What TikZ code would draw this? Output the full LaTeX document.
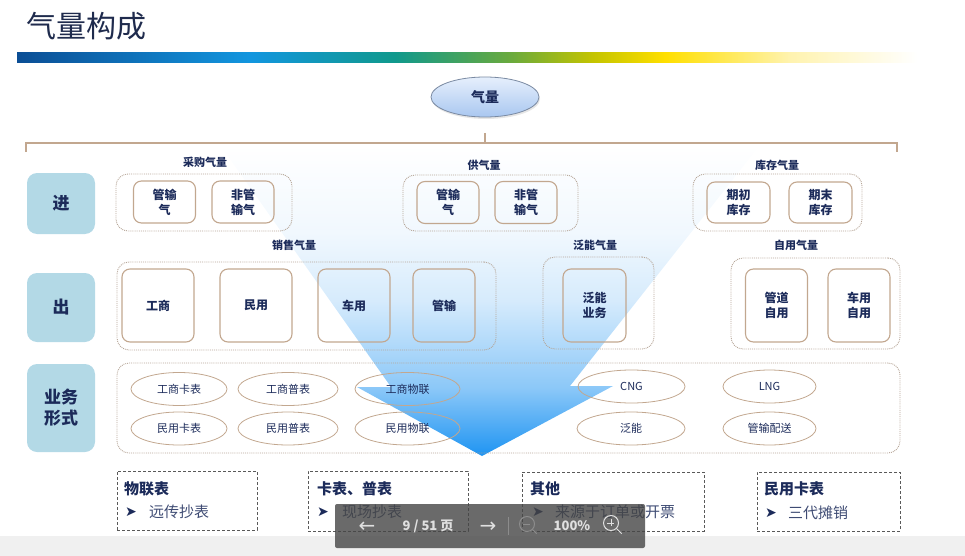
\documentclass[tikz,border=0pt]{standalone}
\usepackage{fontspec}
\setmainfont{Noto Sans CJK SC}
\newfontfamily\symfont{DejaVu Sans}
\usetikzlibrary{shapes.geometric,shadows}

\definecolor{navy}{HTML}{1C2B5A}
\definecolor{titlenavy}{HTML}{1F2B4D}
\definecolor{tan}{HTML}{C2A78F}
\definecolor{dotgray}{HTML}{B5A597}
\definecolor{rowblue}{HTML}{B3D9E6}
\definecolor{arrowblue}{HTML}{1E94F2}
\definecolor{arrow1}{HTML}{8CC8F8}
\definecolor{arrow2}{HTML}{D6EBFC}
\definecolor{arrow3}{HTML}{F1F8FE}
\definecolor{qtop}{HTML}{E6EFFC}
\definecolor{qbot}{HTML}{A9C7F0}
\definecolor{qline}{HTML}{7A8AA2}
\definecolor{stripgray}{HTML}{F0F0F0}
\definecolor{bargray}{HTML}{454545}
\definecolor{bar1}{HTML}{0B4E95}
\definecolor{bar2}{HTML}{1296DF}
\definecolor{bar3}{HTML}{10998C}
\definecolor{bar4}{HTML}{6BAA3C}
\definecolor{bar5}{HTML}{C4C400}
\definecolor{bar6}{HTML}{FFDF00}
\definecolor{bar7}{HTML}{FFF3B0}
\pgfdeclarehorizontalshading{titlebar}{100bp}{color(0bp)=(bar1); color(25bp)=(bar1);
  color(38bp)=(bar2); color(46bp)=(bar3); color(52.5bp)=(bar4); color(57bp)=(bar5);
  color(61bp)=(bar6); color(68bp)=(bar7); color(75bp)=(white); color(100bp)=(white)}
\pgfdeclareverticalshading{arrowfade}{100bp}{color(0bp)=(arrowblue); color(25bp)=(arrowblue);
  color(36bp)=(arrow1); color(50bp)=(arrow2); color(61bp)=(arrow3); color(75bp)=(white);
  color(100bp)=(white)}

\begin{document}
\begin{tikzpicture}[x=1pt, y=-1pt,
  every node/.append style={text=navy},
  rowlabel/.style={rectangle, rounded corners=10pt, fill=rowblue, minimum width=68pt,
    align=center, font=\fontsize{17}{21}\selectfont\bfseries},
  group/.style={rectangle, draw=dotgray, densely dotted, line width=0.9pt, rounded corners=12pt},
  grouplabel/.style={font=\fontsize{11}{13}\selectfont\bfseries},
  tanbox/.style={rectangle, draw=tan, line width=1.1pt, rounded corners=8pt, align=center,
    font=\fontsize{12}{15}\selectfont\bfseries},
  oval/.style={ellipse, draw=tan, line width=0.8pt, inner sep=0pt, minimum height=33pt,
    font=\fontsize{11}{13}\selectfont},
  notebox/.style={rectangle, draw=black!65, densely dashed, line width=0.9pt},
  notetitle/.style={anchor=west, inner sep=0pt, font=\fontsize{15}{17}\selectfont\bfseries},
  notetext/.style={anchor=west, inner sep=0pt, text=navy!85, font=\fontsize{15}{17}\selectfont},
  bullet/.style={inner sep=0pt, font=\symfont\fontsize{14}{16}\selectfont},
  bartext/.style={inner sep=0pt, text=white!88!black, font=\fontsize{13}{15}\selectfont\bfseries}
]
\useasboundingbox (0,0) rectangle (965,556);
\fill[stripgray] (0,536) rectangle (965,556);

% title and colour bar
\node[anchor=west, inner sep=0pt, text=titlenavy, font=\fontsize{30}{34}\selectfont] (title) at (26,26) {气量构成};
\shade[shading=titlebar] (17,53) rectangle (917,63);

% big arrow behind the boxes
\shade[shading=arrowfade]
  (220,145) -- (391,387) -- (357,387) -- (482,456) -- (613,386) -- (570,386) -- (760,145) -- cycle;

% top node and bracket
\node[ellipse, draw=qline, line width=0.8pt, top color=qtop, bottom color=qbot,
  minimum width=108pt, minimum height=40pt, font=\fontsize{14}{16}\selectfont\bfseries,
  drop shadow={opacity=0.2, shadow xshift=1pt, shadow yshift=-2pt}] (qiliang) at (485,97) {气量};
\coordinate (brk) at (485,133);
\coordinate (bl) at (26,152);
\coordinate (br) at (897,152);
\draw[tan, line width=1.2pt] (brk) -- (485,143);
\draw[tan, line width=1.2pt] (bl) -- (26,143) -- (897,143) -- (br);

% row labels
\node[rowlabel, minimum height=61pt] (jin) at (61,203.5) {进};
\node[rowlabel, minimum height=69pt] (chu) at (61,307.5) {出};
\node[rowlabel, minimum height=88pt] (yewu) at (61,408) {业务\\形式};

% row 1
\node[group, minimum width=176pt, minimum height=57pt] (caigou) at (204,202.5) {};
\node[grouplabel] (caigouL) at (205,162) {采购气量};
\node[tanbox, minimum width=62pt, minimum height=42pt] (cg1) at (164.5,202) {管输\\气};
\node[tanbox, minimum width=62pt, minimum height=42pt] (cg2) at (243,202) {非管\\输气};

\node[group, minimum width=175pt, minimum height=56pt] (gongqi) at (490.5,203) {};
\node[grouplabel] (gongqiL) at (484,165) {供气量};
\node[tanbox, minimum width=62pt, minimum height=42pt] (gq1) at (448,202.5) {管输\\气};
\node[tanbox, minimum width=62pt, minimum height=42pt] (gq2) at (526,202.5) {非管\\输气};

\node[group, minimum width=169pt, minimum height=57pt] (kucun) at (777.5,202.5) {};
\node[grouplabel] (kucunL) at (777,165) {库存气量};
\node[tanbox, minimum width=63pt, minimum height=41pt] (kc1) at (738.5,202.5) {期初\\库存};
\node[tanbox, minimum width=63pt, minimum height=41pt] (kc2) at (820.5,202.5) {期末\\库存};

% row 2
\node[group, minimum width=379pt, minimum height=88pt] (xiaoshou) at (306.5,306) {};
\node[grouplabel] (xiaoshouL) at (294,245) {销售气量};
\node[tanbox, minimum width=72pt, minimum height=73pt] (gs) at (158,305.5) {工商};
\node[tanbox, minimum width=72pt, minimum height=73pt] (my) at (256,305.5) {民用};
\node[tanbox, minimum width=72pt, minimum height=73pt] (cy) at (354,305.5) {车用};
\node[tanbox, minimum width=62pt, minimum height=73pt] (gsu) at (444,305.5) {管输};

\node[group, minimum width=111pt, minimum height=92pt] (fanneng) at (598.5,303) {};
\node[grouplabel] (fannengL) at (595,245) {泛能气量};
\node[tanbox, minimum width=63pt, minimum height=73pt] (fn) at (594.5,305.5) {泛能\\业务};

\node[group, minimum width=169pt, minimum height=91pt] (ziyong) at (815.5,303.5) {};
\node[grouplabel] (ziyongL) at (796,245) {自用气量};
\node[tanbox, minimum width=62pt, minimum height=73pt] (gdzy) at (776.5,305.5) {管道\\自用};
\node[tanbox, minimum width=62pt, minimum height=73pt] (cyzy) at (859,305.5) {车用\\自用};

% row 3
\node[group, minimum width=783pt, minimum height=90pt] (xingshi) at (508.5,408) {};
\node[oval, minimum width=96pt] (gskb) at (179,389) {工商卡表};
\node[oval, minimum width=100pt] (gspb) at (288,389) {工商普表};
\node[oval, minimum width=105pt] (gswl) at (407.5,389) {工商物联};
\node[oval, minimum width=96pt] (mykb) at (179,428.5) {民用卡表};
\node[oval, minimum width=100pt] (mypb) at (288,428.5) {民用普表};
\node[oval, minimum width=105pt] (mywl) at (407.5,428.5) {民用物联};
\node[oval, minimum width=107pt] (cng) at (631.5,386.5) {CNG};
\node[oval, minimum width=93pt] (lng) at (769.5,386.5) {LNG};
\node[oval, minimum width=108pt] (fnx) at (631,428.5) {泛能};
\node[oval, minimum width=93pt] (gsps) at (769.5,428.5) {管输配送};

% notes
\node[notebox, minimum width=140pt, minimum height=59pt] (wlb) at (187,500.5) {};
\node[notetitle] (wlt) at (124,489) {物联表};
\node[bullet] (wlm) at (131,512) {➤};
\node[notetext] (wlx) at (149,512) {远传抄表};

\node[notebox, minimum width=160pt, minimum height=60pt] (kpb) at (388,501) {};
\node[notetitle] (kpt) at (317,489) {卡表、普表};
\node[bullet] (kpm) at (323,512) {➤};
\node[notetext] (kpx) at (342,512) {现场抄表};

\node[notebox, minimum width=182pt, minimum height=59pt] (qtb) at (613,501.5) {};
\node[notetitle] (qtt) at (530,489) {其他};
\node[bullet] (qtm) at (538,512) {➤};
\node[notetext] (qtx) at (555,512) {来源于订单或开票};

\node[notebox, minimum width=143pt, minimum height=59pt] (mkb) at (828.5,501.5) {};
\node[notetitle] (mkt) at (764,489) {民用卡表};
\node[bullet] (mkm) at (771,513) {➤};
\node[notetext] (mkx) at (788,513) {三代摊销};

% viewer toolbar
\node[rectangle, fill=bargray, fill opacity=0.8, rounded corners=2pt,
  minimum width=310pt, minimum height=44pt] (toolbar) at (490,526) {};
\node[bartext, font=\symfont\fontsize{20}{22}\selectfont] (prev) at (367,527) {←};
\node[bartext] (page) at (428,526) {9 / 51 页};
\node[bartext, font=\symfont\fontsize{20}{22}\selectfont] (next) at (488,527) {→};
\draw[white!55!black, line width=0.8pt] (508,517) -- (508,535);
\node[circle, draw=white!55!black, line width=1pt, minimum size=15pt, inner sep=0pt] (zout) at (527,524) {};
\draw[white!55!black, line width=1pt] (zout.west) ++(4,0) -- ++(7,0);
\draw[white!55!black, line width=1pt] (zout.south east) -- ++(4,4);
\node[bartext] (zoom) at (572,526) {100\%};
\node[circle, draw=white!88!black, line width=1pt, minimum size=15pt, inner sep=0pt] (zin) at (611,523) {};
\draw[white!88!black, line width=1pt] (zin.west) ++(4,0) -- ++(7,0);
\draw[white!88!black, line width=1pt] (zin.north) ++(0,4) -- ++(0,7);
\draw[white!88!black, line width=1pt] (zin.south east) -- ++(5,5);
\end{tikzpicture}
\end{document}
